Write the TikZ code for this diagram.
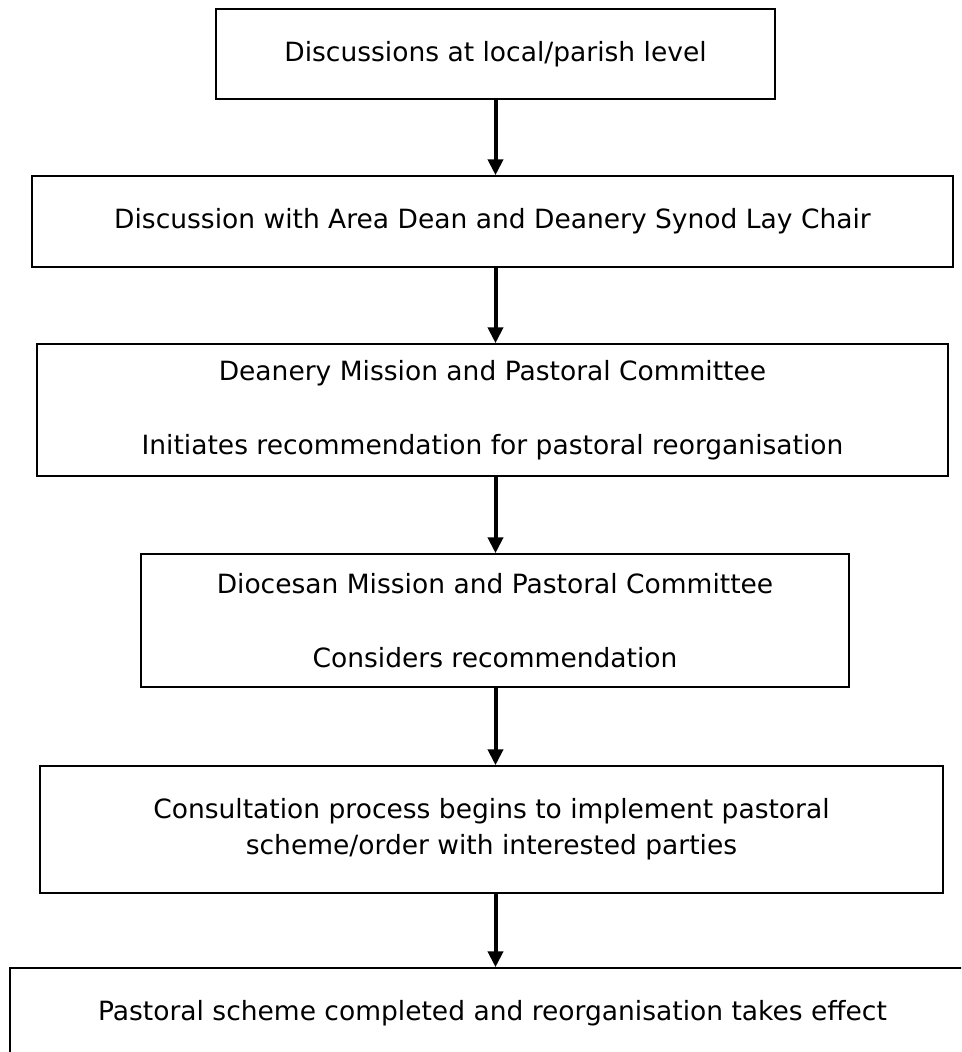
\documentclass[tikz,border=0pt]{standalone}
\usepackage{fontspec}
\setmainfont{DejaVu Sans}
\usetikzlibrary{arrows.meta}

\begin{document}
\begin{tikzpicture}[
  x=1pt, y=-1pt,
  >={Triangle[width=15pt,length=16pt]},
  box/.style  = {draw, line width=1.5pt, align=center, inner sep=0pt,
                 font=\fontsize{26.5}{36}\selectfont},
  flow/.style = {->, line width=4pt}
]
\useasboundingbox (0,0) rectangle (961,1052);
\clip (0,0) rectangle (961,1052);

\node[box, minimum width=559pt, minimum height=90pt] (local) at (495.5,54)
  {Discussions at local/parish level};

\node[box, minimum width=921pt, minimum height=91pt] (dean) at (492.5,221.5)
  {Discussion with Area Dean and Deanery Synod Lay Chair};

\node[box, minimum width=911pt, minimum height=132pt] (deanery) at (492.5,410)
  {Deanery Mission and Pastoral Committee\\[38pt]
   Initiates recommendation for pastoral reorganisation};

\node[box, minimum width=708pt, minimum height=133pt] (diocese) at (495,620.5)
  {Diocesan Mission and Pastoral Committee\\[38pt]
   Considers recommendation};

\node[box, minimum width=903pt, minimum height=127pt] (consult) at (491.5,829.5)
  {Consultation process begins to implement pastoral\\
   scheme/order with interested parties};

\node[box, minimum width=965pt, minimum height=90pt] (scheme) at (492.5,1013)
  {Pastoral scheme completed and reorganisation takes effect};

\draw[flow] (local.south)                  -- (local.south |- dean.north);
\draw[flow] (local.south |- dean.south)    -- (local.south |- deanery.north);
\draw[flow] (local.south |- deanery.south) -- (local.south |- diocese.north);
\draw[flow] (local.south |- diocese.south) -- (local.south |- consult.north);
\draw[flow] (local.south |- consult.south) -- (local.south |- scheme.north);
\end{tikzpicture}
\end{document}
